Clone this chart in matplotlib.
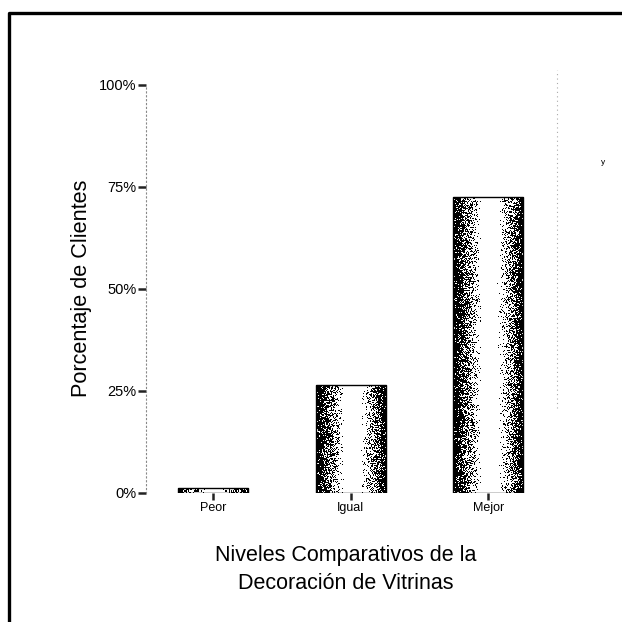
import numpy as np
import matplotlib
matplotlib.use("Agg")
import matplotlib.pyplot as plt
from matplotlib.lines import Line2D

categorias = ["Peor", "Igual", "Mejor"]
porcentajes = [1.1, 26.4, 72.5]
marcas_y = [0, 25, 50, 75, 100]
etiquetas_y = ["0%", "25%", "50%", "75%", "100%"]

plt.rcParams["font.family"] = ["Liberation Sans", "DejaVu Sans"]

fig = plt.figure(figsize=(6.22, 6.22), dpi=100)
ax = fig.add_axes([0.2347, 0.2079, 0.6608, 0.6562])

x = np.arange(len(categorias))
barras = ax.bar(x, porcentajes, width=0.51, facecolor="none",
                edgecolor="black", linewidth=1.0, zorder=3)


# sombreado tipo cilindro: oscuro en los bordes, claro al centro
def perfil(t):
    d = np.zeros_like(t)
    izq = t < 0.4
    d[izq] = np.clip((0.4 - t[izq]) / 0.34, 0, 1) ** 0.9
    der = t > 0.62
    d[der] = np.clip((t[der] - 0.62) / 0.33, 0, 1) ** 1.3
    return d


rng = np.random.default_rng(7)
px_por_unidad = 622 * 0.6562 / 100
for b in barras:
    ancho_px = 70
    alto_px = max(3, int(round(b.get_height() * px_por_unidad)))
    t = (np.arange(ancho_px) + 0.5) / ancho_px
    d = perfil(t)[None, :] * np.ones((alto_px, 1))
    grano = rng.random((alto_px, ancho_px))
    textura = np.where(grano < d * 0.9, 0.0, 1.0)
    im = ax.imshow(textura, cmap="gray", vmin=0, vmax=1, interpolation="nearest",
                   extent=(b.get_x(), b.get_x() + b.get_width(), 0, b.get_height()),
                   aspect="auto", zorder=2)
    im.set_clip_path(b)

ax.set_xlim(-0.49, 2.50)
ax.set_ylim(0, 100)
ax.set_xticks(x, categorias)
ax.set_yticks(marcas_y, etiquetas_y)
ax.tick_params(axis="y", length=6, width=1.8, color="#222222", pad=1, labelsize=10.5)
ax.tick_params(axis="x", length=5, width=1.8, color="#222222", pad=2, labelsize=9)

for lado in ["top", "bottom", "right"]:
    ax.spines[lado].set_visible(False)
ax.spines["left"].set_linestyle((0, (1, 2.5)))
ax.spines["left"].set_color("#888888")
ax.spines["left"].set_linewidth(0.8)
ax.axvline(2.5, ymin=0.207, ymax=1.035, clip_on=False,
           ls=(0, (1, 3)), color="#aaaaaa", lw=0.8)

ax.set_ylabel("Porcentaje de Clientes", fontsize=15.6, va="center")
ax.yaxis.set_label_coords(-0.158, 0.5)
ax.set_xlabel("Niveles Comparativos de la\nDecoración de Vitrinas",
              fontsize=15.5, linespacing=1.45, va="top")
ax.xaxis.set_label_coords(0.487, -0.128)

fig.text(603 / 622, 1 - 163 / 622, "y", fontsize=6, ha="center", va="center")

# marco del recuadro (arriba e izquierda)
fig.add_artist(Line2D([9 / 622, 9 / 622, 1], [0, 1 - 13 / 622, 1 - 13 / 622],
                      transform=fig.transFigure, color="black", lw=2.4))

fig.savefig("out.png", dpi=100)
